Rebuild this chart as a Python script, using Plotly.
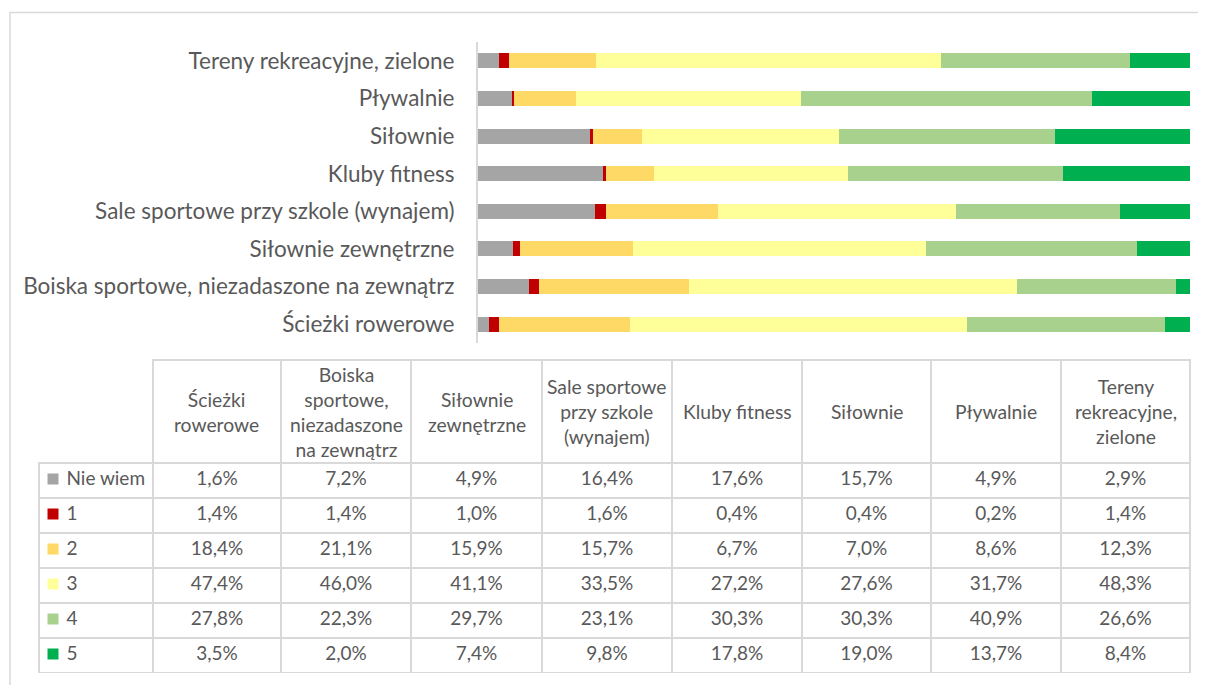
import plotly.graph_objects as go

# ---------------- data ----------------
categories = [
    "Ścieżki rowerowe",
    "Boiska sportowe, niezadaszone na zewnątrz",
    "Siłownie zewnętrzne",
    "Sale sportowe przy szkole (wynajem)",
    "Kluby fitness",
    "Siłownie",
    "Pływalnie",
    "Tereny rekreacyjne, zielone",
]
header_labels = [
    "Ścieżki<br>rowerowe",
    "Boiska<br>sportowe,<br>niezadaszone<br>na zewnątrz",
    "Siłownie<br>zewnętrzne",
    "Sale sportowe<br>przy szkole<br>(wynajem)",
    "Kluby fitness",
    "Siłownie",
    "Pływalnie",
    "Tereny<br>rekreacyjne,<br>zielone",
]
series_names = ["Nie wiem", "1", "2", "3", "4", "5"]
nie_wiem = [1.6, 7.2, 4.9, 16.4, 17.6, 15.7, 4.9, 2.9]
s1 = [1.4, 1.4, 1.0, 1.6, 0.4, 0.4, 0.2, 1.4]
s2 = [18.4, 21.1, 15.9, 15.7, 6.7, 7.0, 8.6, 12.3]
s3 = [47.4, 46.0, 41.1, 33.5, 27.2, 27.6, 31.7, 48.3]
s4 = [27.8, 22.3, 29.7, 23.1, 30.3, 30.3, 40.9, 26.6]
s5 = [3.5, 2.0, 7.4, 9.8, 17.8, 19.0, 13.7, 8.4]
series_values = [nie_wiem, s1, s2, s3, s4, s5]
colors = ["#A5A5A5", "#C00000", "#FFD966", "#FFFF99", "#A9D18E", "#00B050"]

# ---------------- layout constants ----------------
OFF = 8                      # default page margin of the html body
W, H = 1206 - 2 * OFF, 693 - 2 * OFF
FONT = "Lato, 'Open Sans', sans-serif"
TXT = "#595959"
GRID = "#D9D9D9"

def px_x(v):
    return (v - OFF) / W

def px_y(v):
    return 1 - (v - OFF) / H

fig = go.Figure()

for name, vals, col in zip(series_names, series_values, colors):
    fig.add_trace(go.Bar(
        y=categories, x=vals, name=name, orientation="h",
        marker=dict(color=col, line=dict(width=0)),
        showlegend=False, xaxis="x", yaxis="y",
    ))

# ---------------- table ----------------
table_left, table_right = 39, 1190
table_top, header_h, row_h = 360, 103, 35
col_widths = [114, 128, 130, 131, 130, 130, 129, 130, 129]
n_rows = len(series_names)

def fmt(v):
    return f"{v:.1f}%".replace(".", ",")

# non-breaking spaces keep each legend label on one line
legend_cells = ["\u00a0\u00a0\u00a0\u00a0" + n.replace(" ", "\u00a0") for n in series_names]
columns = [legend_cells]
for i in range(len(categories)):
    columns.append([fmt(s[i]) for s in series_values])

fig.add_trace(go.Table(
    domain=dict(x=[px_x(table_left), px_x(table_right)],
                y=[px_y(table_top + header_h + row_h * n_rows), px_y(table_top)]),
    columnwidth=col_widths,
    header=dict(values=[""] * (len(categories) + 1), height=header_h,
                fill=dict(color="rgba(0,0,0,0)"),
                line=dict(color=GRID, width=[0] + [2] * len(categories))),
    cells=dict(values=columns, height=row_h,
               align=["left"] + ["center"] * len(categories),
               fill=dict(color="rgba(0,0,0,0)"),
               line=dict(color=GRID, width=2),
               font=dict(family=FONT, size=19, color=TXT)),
))

# legend keys (coloured squares) inside the first table column
body_top = table_top + header_h
fig.add_trace(go.Scatter(
    x=[0] * n_rows, y=series_names, mode="markers",
    marker=dict(symbol="square", size=11, color=colors, line=dict(width=0)),
    showlegend=False, hoverinfo="skip", xaxis="x2", yaxis="y2",
))

annotations = []
cum = table_left + col_widths[0]
for lbl, w in zip(header_labels, col_widths[1:]):
    annotations.append(dict(
        text=lbl, x=px_x(cum + w / 2), y=px_y(table_top + header_h / 2),
        xref="paper", yref="paper", xanchor="center", yanchor="middle",
        align="center", showarrow=False,
        font=dict(family=FONT, size=19.3, color=TXT),
    ))
    cum += w

sq_shift = 1.5 / row_h
fig.update_layout(
    width=W, height=H, autosize=False,
    margin=dict(l=0, r=0, t=0, b=0),
    paper_bgcolor="white", plot_bgcolor="rgba(0,0,0,0)",
    barmode="stack", barnorm="percent", bargap=0.6,
    font=dict(family=FONT, color=TXT),
    xaxis=dict(domain=[px_x(478), px_x(1190)], range=[0, 100],
               visible=False, fixedrange=True),
    yaxis=dict(domain=[px_y(343), px_y(42)], type="category",
               categoryorder="array", categoryarray=categories,
               showline=True, linecolor=GRID, linewidth=2,
               showgrid=False, ticks="", ticklabelstandoff=17,
               tickfont=dict(family=FONT, size=22.5, color=TXT)),
    xaxis2=dict(domain=[px_x(table_left), px_x(table_left + col_widths[0])],
                range=[-14, col_widths[0] - 14], visible=False, fixedrange=True),
    yaxis2=dict(domain=[px_y(body_top + row_h * n_rows), px_y(body_top)],
                type="category", categoryorder="array",
                categoryarray=series_names[::-1],
                range=[-0.5 - sq_shift, n_rows - 0.5 - sq_shift],
                visible=False, fixedrange=True),
    annotations=annotations,
    shapes=[dict(type="rect", xref="paper", yref="paper",
                 x0=px_x(10), x1=1.02, y0=-0.02, y1=px_y(12.5),
                 line=dict(color=GRID, width=1.5), fillcolor="rgba(0,0,0,0)",
                 layer="below")],
)

fig.write_html("out.html")
